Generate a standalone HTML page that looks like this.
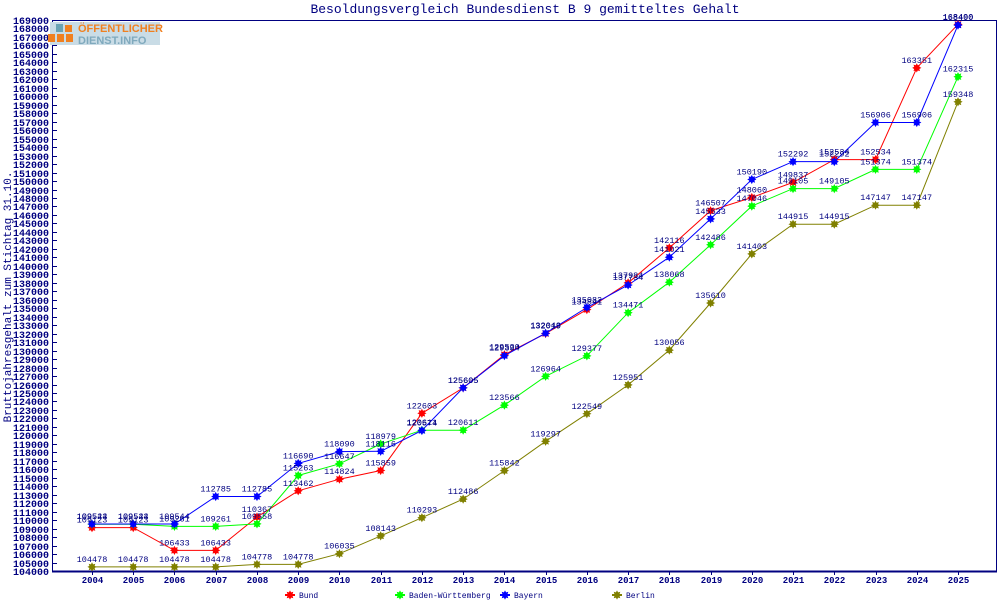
<!DOCTYPE html>
<html><head><meta charset="utf-8"><style>
html,body{margin:0;padding:0;background:#fff;width:1000px;height:600px;overflow:hidden}
svg text{font-family:"Liberation Mono","DejaVu Sans Mono",monospace}
</style></head><body>
<svg id="c" width="1000" height="600" xmlns="http://www.w3.org/2000/svg"></svg>
<script>
const s=document.getElementById('c');let h='';
const X0=92,DX=(958-92)/21,Y=v=>571-(v-104000)*551/65000,Xp=i=>X0+i*DX;
h+='<text x="525" y="13" text-anchor="middle" font-size="13" fill="#000080">Besoldungsvergleich Bundesdienst B 9 gemitteltes Gehalt</text>';
h+='<rect x="52.5" y="20.5" width="944" height="550.5" fill="none" stroke="#000080"/>';
h+='<line x1="52" y1="571.5" x2="997" y2="571.5" stroke="#000080" stroke-width="2"/>';
for(let v=104000;v<=169000;v+=1000){const y=Math.round(Y(v))+.5;h+=`<line x1="52" y1="${y}" x2="57" y2="${y}" stroke="#000080"/><text x="49" y="${y+3.5}" text-anchor="end" font-size="10" font-weight="bold" fill="#000080">${v}</text>`;}
for(let i=0;i<22;i++){const x=Math.round(Xp(i))+.5;h+=`<line x1="${x}" y1="571" x2="${x}" y2="575" stroke="#000080"/><text x="${x}" y="583" text-anchor="middle" font-size="9" font-weight="bold" fill="#000080">${2004+i}</text>`;}
h+='<text transform="translate(11,297) rotate(-90)" text-anchor="middle" font-size="11" fill="#000080">Bruttojahresgehalt zum Stichtag 31.10.</text>';
h+='<rect x="50" y="22" width="110" height="23" fill="#c9dce6"/><rect x="56" y="24" width="7" height="8" fill="#6aa3b4"/><rect x="65" y="25" width="7" height="7" fill="#f08020"/><rect x="48" y="34" width="7" height="8" fill="#f08020"/><rect x="57" y="34" width="7" height="8" fill="#f08020"/><rect x="66" y="34" width="7" height="8" fill="#f08020"/>';
h+='<text x="78" y="32" font-size="11" font-weight="bold" fill="#f08020" style="font-family:Liberation Sans,sans-serif">ÖFFENTLICHER</text><text x="78" y="44" font-size="11" font-weight="bold" fill="#7fa9bd" style="font-family:Liberation Sans,sans-serif">DIENST.INFO</text>';
const S=[
['#ff0000','Bund',[109123,109123,106433,106433,110367,113462,114824,115859,122603,125605,129520,132019,134841,137984,142116,146507,148060,149837,152534,152534,163351,168490]],
['#00ff00','Baden-Württemberg',[109523,109523,109261,109261,109558,115263,116647,118979,120611,120611,123566,126964,129377,134471,138068,142486,147046,149105,149105,151374,151374,162315]],
['#0000ff','Bayern',[109544,109544,109544,112785,112785,116690,118090,118116,120574,125605,129394,132049,135082,137734,141021,145533,150190,152292,152292,156906,156906,168400]],
['#808000','Berlin',[104478,104478,104478,104478,104778,104778,106035,108143,110293,112486,115842,119297,122549,125951,130056,135610,141403,144915,144915,147147,147147,159348]]];
function star(x,y,c){let p=[];for(let k=0;k<16;k++){const r=k%2?2.8:4.6,a=k*Math.PI/8;p.push((x+r*Math.cos(a)).toFixed(1)+','+(y+r*Math.sin(a)).toFixed(1));}return `<polygon points="${p.join(' ')}" fill="${c}"/>`;}
S.forEach(([c,n,d])=>{h+=`<polyline fill="none" stroke="${c}" stroke-width="1" points="${d.map((v,i)=>Xp(i).toFixed(1)+','+Y(v).toFixed(1)).join(' ')}"/>`;});
S.forEach(([c,n,d])=>{d.forEach((v,i)=>{h+=star(Xp(i),Y(v),c);});});
S.forEach(([c,n,d])=>{d.forEach((v,i)=>{h+=`<text x="${Xp(i)}" y="${Y(v)-5}" text-anchor="middle" font-size="8.5" fill="#000080">${v}</text>`;});});
const L=[[290,'Bund'],[400,'Baden-Württemberg'],[505,'Bayern'],[617,'Berlin']];
L.forEach(([x,n],k)=>{const c=S[k][0];h+=`<line x1="${x-5}" y1="595" x2="${x+5}" y2="595" stroke="${c}" stroke-width="2"/>`+star(x,595,c)+`<text x="${x+9}" y="598" font-size="8" fill="#000080">${n}</text>`;});
s.innerHTML=h;
</script>
</body></html>
